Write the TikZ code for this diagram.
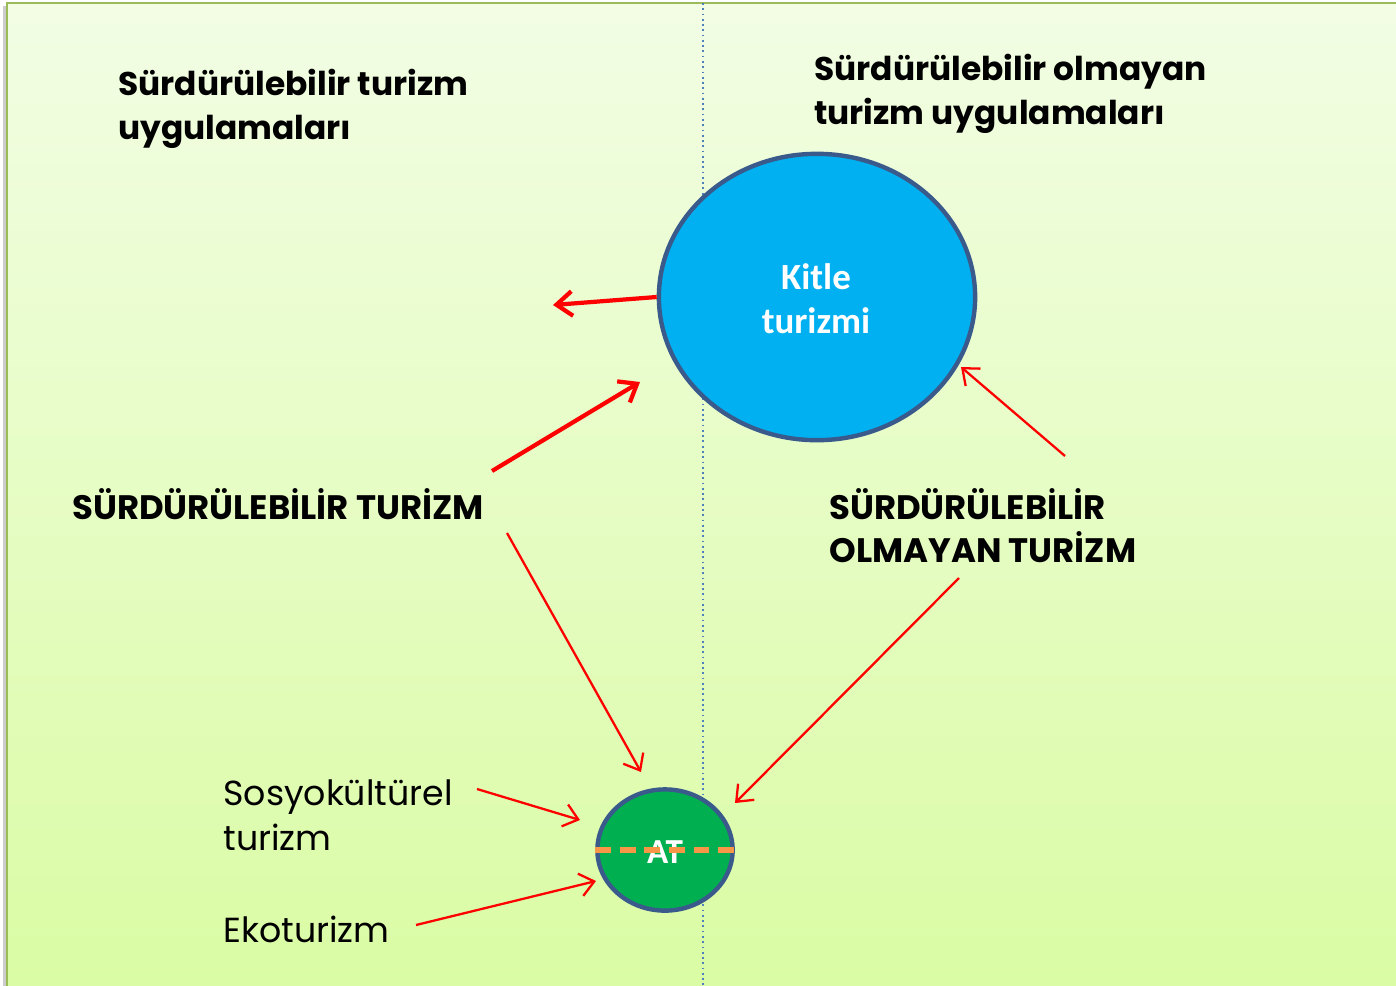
\documentclass[tikz,border=0pt]{standalone}
\usepackage{fontspec}
\setmainfont{Poppins}
\newfontfamily\calfont{Carlito}
\usepackage{tikz}
\usetikzlibrary{arrows.meta,shapes.geometric}

\definecolor{panelTop}{HTML}{F2FDE4}
\definecolor{panelBot}{HTML}{DAFCA4}
\definecolor{panelLine}{HTML}{9BBB59}
\definecolor{ringLine}{HTML}{3A5A8C}
\definecolor{kitleBlue}{HTML}{00B0F0}
\definecolor{atGreen}{HTML}{00B050}
\definecolor{cutOrange}{HTML}{F79646}
\definecolor{splitBlue}{HTML}{4F81BD}

\begin{document}
\begin{tikzpicture}[x=0.02cm,y=-0.02cm,
    head/.style={anchor=west,inner sep=0pt,align=left,font=\fontsize{18.7}{25}\selectfont\bfseries},
    caps/.style={anchor=west,inner sep=0pt,align=left,font=\fontsize{19.3}{24.5}\selectfont\bfseries},
    plain/.style={anchor=west,inner sep=0pt,align=left,font=\fontsize{19.8}{25.5}\selectfont},
    thickarr/.style={-{Straight Barb[length=9pt,width=14pt,line width=2.4pt]},line width=2.4pt,red},
    thinarr/.style={-{Straight Barb[length=8pt,width=13pt,line width=1.3pt]},line width=1.3pt,red}]
  \useasboundingbox (0,0) rectangle (1396,985);
  % panel
  \shade[top color=panelTop,bottom color=panelBot] (7,3) rectangle (1400,990);
  \draw[gray!40,line width=2pt] (5,6) -- (5,990);
  \draw[panelLine,line width=1.5pt] (1400,3) -- (7,3) -- (7,990);
  \draw[splitBlue,dotted,line width=1pt] (703,3) -- (703,985);

  \draw (118,109) node[head] (lefthead) {Sürdürülebilir turizm\\uygulamaları};
  \draw (814,94) node[head] (righthead) {Sürdürülebilir olmayan\\turizm uygulamaları};

  \draw (817,297) node[ellipse,draw=ringLine,line width=2.5pt,fill=kitleBlue,
      minimum width=180pt,minimum height=163pt] (kitle) {};
  \draw (816,299) node[align=center,text=white,font=\calfont\fontsize{21}{25}\selectfont\bfseries] (kitletxt) {Kitle\\turizmi};

  \draw (665,850) node[ellipse,draw=ringLine,line width=2.5pt,fill=atGreen,
      minimum width=77pt,minimum height=69pt] (at) {};
  \draw (665,852) node[text=white,font=\calfont\fontsize{20}{22}\selectfont\bfseries] (attxt) {AT};
  \draw[cutOrange,line width=3.2pt,dash pattern=on 9pt off 5pt] (at.west) -- (at.east);

  \draw (72,504) node[caps] (st) {SÜRDÜRÜLEBİLİR TURİZM};
  \draw (829,526) node[caps] (sot) {SÜRDÜRÜLEBİLİR\\OLMAYAN TURİZM};
  \draw (223,815) node[plain] (sosyo) {Sosyokültürel\\turizm};
  \draw (223,929) node[plain] (eko) {Ekoturizm};

  \coordinate (away) at (553,305);
  \coordinate (stup) at (492,471);
  \coordinate (kitlein) at (640,382);
  \coordinate (stdown) at (507,533);
  \coordinate (attop) at (641,772);
  \coordinate (sotup) at (1065,456);
  \coordinate (kitlese) at (961,367);
  \coordinate (sotdown) at (959,578);
  \coordinate (atne) at (735,803);
  \coordinate (sosyoout) at (477,789);
  \coordinate (atw) at (580,820);
  \coordinate (ekoout) at (416,925);
  \coordinate (atsw) at (596,881);

  \path[thickarr] (kitle.west) edge (away);
  \path[thickarr] (stup) edge (kitlein);
  \path[thinarr] (sotup) edge (kitlese);
  \path[thinarr] (stdown) edge (attop);
  \path[thinarr] (sotdown) edge (atne);
  \path[thinarr] (sosyoout) edge (atw);
  \path[thinarr] (ekoout) edge (atsw);
\end{tikzpicture}
\end{document}
